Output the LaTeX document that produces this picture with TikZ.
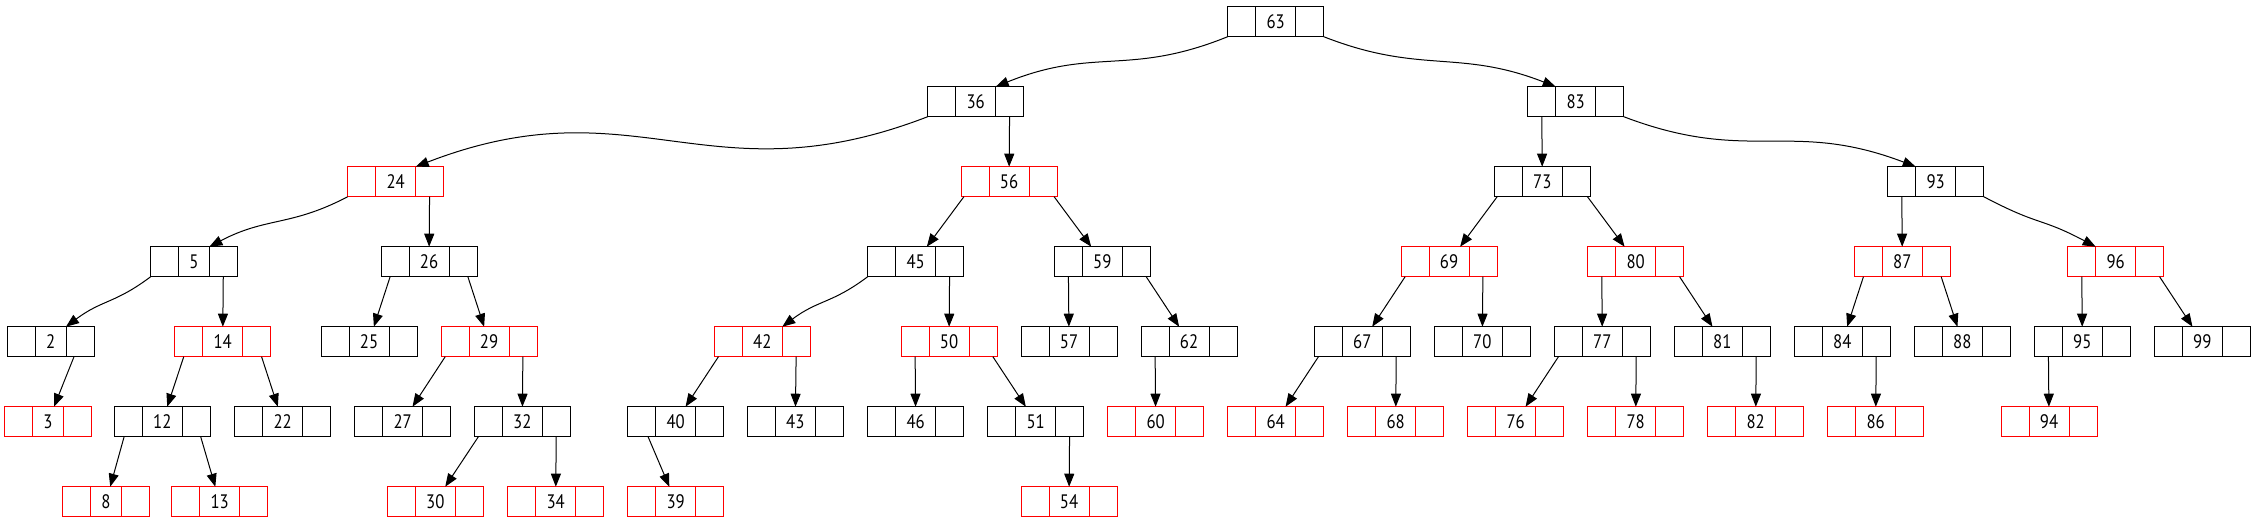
\documentclass[tikz,border=0pt]{standalone}
\usepackage{fontspec}
\newfontfamily\digitfont[FakeStretch=0.86]{PT Sans}
\usetikzlibrary{arrows.meta,fit}
\tikzset{
  cell/.style={rectangle, draw, line width=1pt, minimum height=30pt, inner sep=0pt, outer sep=0pt,
    font=\digitfont\fontsize{19.5}{19.5}\selectfont},
  conn/.style={-{Triangle[length=13pt,width=10pt]}, line width=1pt},
}
\newcommand\mkrec[6]{%
  \node[cell, draw=#5, minimum width=28pt, anchor=west] (#1l) at (#3, {-(21.7+80*#4)}) {};
  \node[cell, draw=#5, minimum width=#6pt, anchor=west] (#1m) at (#1l.east) {#2};
  \node[cell, draw=#5, minimum width=28pt, anchor=west] (#1r) at (#1m.east) {};
  \node[fit=(#1l)(#1r), inner sep=0pt, outer sep=0pt] (#1) {};
}
\begin{document}
\begin{tikzpicture}[x=1pt,y=1pt]
\useasboundingbox (0,0) rectangle (2256,-523);
% row 0
\mkrec{n63}{63}{1227.7}{0}{black}{40}
% row 1
\mkrec{n36}{36}{927.7}{1}{black}{40}
\mkrec{n83}{83}{1527.7}{1}{black}{40}
% row 2
\mkrec{n24}{24}{347.7}{2}{red}{40}
\mkrec{n56}{56}{961}{2}{red}{40}
\mkrec{n73}{73}{1494.3}{2}{black}{40}
\mkrec{n93}{93}{1887.7}{2}{black}{40}
% row 3
\mkrec{n5}{5}{150.7}{3}{black}{30.7}
\mkrec{n26}{26}{381}{3}{black}{40}
\mkrec{n45}{45}{867.7}{3}{black}{40}
\mkrec{n59}{59}{1054.3}{3}{black}{40}
\mkrec{n69}{69}{1401}{3}{red}{40}
\mkrec{n80}{80}{1587.7}{3}{red}{40}
\mkrec{n87}{87}{1854.3}{3}{red}{40}
\mkrec{n96}{96}{2067.7}{3}{red}{40}
% row 4
\mkrec{n2}{2}{7.3}{4}{black}{30.7}
\mkrec{n14}{14}{174.7}{4}{red}{40}
\mkrec{n25}{25}{321}{4}{black}{40}
\mkrec{n29}{29}{441}{4}{red}{40}
\mkrec{n42}{42}{714.3}{4}{red}{40}
\mkrec{n50}{50}{901}{4}{red}{40}
\mkrec{n57}{57}{1021}{4}{black}{40}
\mkrec{n62}{62}{1141}{4}{black}{40}
\mkrec{n67}{67}{1314.3}{4}{black}{40}
\mkrec{n70}{70}{1434.3}{4}{black}{40}
\mkrec{n77}{77}{1554.3}{4}{black}{40}
\mkrec{n81}{81}{1674.3}{4}{black}{40}
\mkrec{n84}{84}{1794.3}{4}{black}{40}
\mkrec{n88}{88}{1914.3}{4}{black}{40}
\mkrec{n95}{95}{2034.3}{4}{black}{40}
\mkrec{n99}{99}{2154.3}{4}{black}{40}
% row 5
\mkrec{n3}{3}{4.7}{5}{red}{30.7}
\mkrec{n12}{12}{114.3}{5}{black}{40}
\mkrec{n22}{22}{234.7}{5}{black}{40}
\mkrec{n27}{27}{354.7}{5}{black}{40}
\mkrec{n32}{32}{474.3}{5}{black}{40}
\mkrec{n40}{40}{627.7}{5}{black}{40}
\mkrec{n43}{43}{747.3}{5}{black}{40}
\mkrec{n46}{46}{867.7}{5}{black}{40}
\mkrec{n51}{51}{987.7}{5}{black}{40}
\mkrec{n60}{60}{1107.7}{5}{red}{40}
\mkrec{n64}{64}{1227.7}{5}{red}{40}
\mkrec{n68}{68}{1347.7}{5}{red}{40}
\mkrec{n76}{76}{1467.7}{5}{red}{40}
\mkrec{n78}{78}{1587.7}{5}{red}{40}
\mkrec{n82}{82}{1707.7}{5}{red}{40}
\mkrec{n86}{86}{1827.7}{5}{red}{40}
\mkrec{n94}{94}{2001}{5}{red}{40}
% row 6
\mkrec{n8}{8}{62.7}{6}{red}{30.7}
\mkrec{n13}{13}{171.7}{6}{red}{40}
\mkrec{n30}{30}{387.3}{6}{red}{40}
\mkrec{n34}{34}{507.7}{6}{red}{40}
\mkrec{n39}{39}{627.7}{6}{red}{40}
\mkrec{n54}{54}{1021}{6}{red}{40}

% curved connectors
\draw[conn] (n63l.south west) .. controls +(-99,-40) and +(99,40) .. (n36r.north west);
\draw[conn] (n63r.south east) .. controls +(97,-38) and +(-97,38) .. (n83l.north east);
\draw[conn] (n36l.south west) .. controls +(-220,-85) and +(220,85) .. (n24r.north west);
\draw[conn] (n83r.south east) .. controls +(126,-48) and +(-126,48) .. (n93l.north east);
\draw[conn] (n24l.south west) .. controls +(-57,-30) and +(57,30) .. (n5r.north west);
\draw[conn] (n5l.south west) .. controls +(-36,-27) and +(36,27) .. (n2r.north west);
\draw[conn] (n45l.south west) .. controls +(-36,-27) and +(36,27) .. (n42r.north west);
\draw[conn] (n93r.south east) .. controls +(57,-30) and +(-57,30) .. (n96l.north east);

% straight connectors
\foreach \p/\c in {n36r/n56, n83l/n73, n24r/n26, n56l/n45, n56r/n59, n73l/n69, n73r/n80,
  n93l/n87, n5r/n14, n26l/n25, n26r/n29, n45r/n50, n59l/n57, n59r/n62, n69l/n67, n69r/n70,
  n80l/n77, n80r/n81, n87l/n84, n87r/n88, n96l/n95, n96r/n99, n2r/n3, n14l/n12, n14r/n22,
  n29l/n27, n29r/n32, n42l/n40, n42r/n43, n50l/n46, n50r/n51, n62l/n60, n67l/n64, n67r/n68,
  n77l/n76, n77r/n78, n81r/n82, n84r/n86, n95l/n94, n12l/n8, n12r/n13, n32l/n30, n32r/n34,
  n40l/n39, n51r/n54}
  \draw[conn] (\p) -- (\c);
\end{tikzpicture}
\end{document}
